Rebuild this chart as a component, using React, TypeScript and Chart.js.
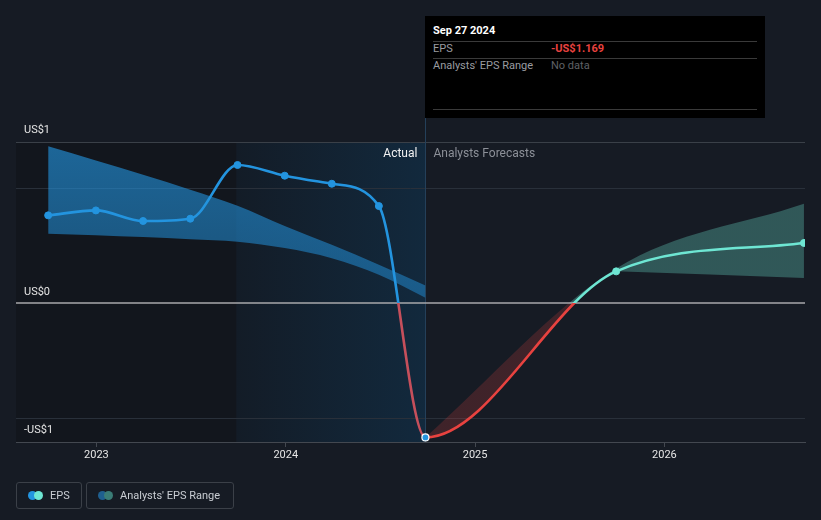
import React, { useEffect, useRef } from "react";
import { Chart, registerables } from "chart.js";

Chart.register(...registerables);

// ---------- data ----------
const actualDates = [
  "2022-09-30", "2022-12-31", "2023-04-01", "2023-07-01", "2023-09-30",
  "2023-12-30", "2024-03-30", "2024-06-29", "2024-09-27",
];
const actualEps = [0.762, 0.805, 0.713, 0.733, 1.2, 1.107, 1.037, 0.843, -1.169];

const forecastDates = ["2025-09-30", "2026-09-27"];
const forecastEps = [0.275, 0.522];

const pastRangeLow = [0.603, 0.59, 0.573, 0.555, 0.533, 0.478, 0.39, 0.246, 0.046];
const pastRangeHigh = [1.362, 1.24, 1.115, 0.985, 0.846, 0.67, 0.507, 0.333, 0.153];

const forecastRangeHighDates = ["2024-09-27", "2025-09-30", "2026-09-27"];
const forecastRangeHigh = [-1.169, 0.3, 0.863];
const forecastRangeLowDates = ["2025-09-30", "2026-09-27"];
const forecastRangeLow = [0.275, 0.217];

const xTickYears = [2023, 2024, 2025, 2026];
const xAxisStart = "2022-07-30";
const xAxisEnd = "2026-09-29";
const yAxisMin = -1.209;
const yAxisMax = 1.4;
const yGridValues = [1, -1];
const yLabelTexts = ["US$1", "US$0", "-US$1"];
const highlightStart = "2023-09-28";

// ---------- styles ----------
const BLUE = "#2394df";
const TEAL = "#6ee6d3";
const RED = "#e8423f";
const RED_MUTED = "#c64f5b";
const FONT = "Roboto, 'Noto Sans', sans-serif";

function toYear(iso: string): number {
  const d = new Date(iso + "T00:00:00Z");
  const y = d.getUTCFullYear();
  const s = Date.UTC(y, 0, 1);
  const e = Date.UTC(y + 1, 0, 1);
  return y + (d.getTime() - s) / (e - s);
}

function splitGradient(chart: any, above: string, below: string): any {
  const { ctx, chartArea, scales } = chart;
  if (!chartArea || !scales || !scales.y) return above;
  const y0 = scales.y.getPixelForValue(0);
  const f = Math.min(1, Math.max(0, (y0 - chartArea.top) / (chartArea.bottom - chartArea.top)));
  const g = ctx.createLinearGradient(0, chartArea.top, 0, chartArea.bottom);
  g.addColorStop(0, above);
  g.addColorStop(f, above);
  g.addColorStop(f, below);
  g.addColorStop(1, below);
  return g;
}

const decorPlugin = {
  id: "decor",
  beforeDraw(chart: any) {
    const { ctx, chartArea, scales, width, height } = chart;
    const x = scales.x;
    ctx.save();
    ctx.fillStyle = "#161b24";
    ctx.fillRect(0, 0, width, height);
    const xh = x.getPixelForValue(toYear(highlightStart));
    const xl = x.getPixelForValue(toYear(actualDates[actualDates.length - 1]));
    ctx.fillStyle = "#12161d";
    ctx.fillRect(chartArea.left, chartArea.top, xh - chartArea.left, chartArea.bottom - chartArea.top);
    const g = ctx.createLinearGradient(xh, 0, xl, 0);
    g.addColorStop(0, "#131c27");
    g.addColorStop(1, "#12293d");
    ctx.fillStyle = g;
    ctx.fillRect(xh, chartArea.top, xl - xh, chartArea.bottom - chartArea.top);
    ctx.restore();
  },
  beforeDatasetsDraw(chart: any) {
    const { ctx, chartArea, scales } = chart;
    const y = scales.y;
    ctx.save();
    ctx.lineWidth = 1;
    ctx.strokeStyle = "#3a4048";
    ctx.beginPath();
    ctx.moveTo(chartArea.left, Math.round(chartArea.top) + 0.5);
    ctx.lineTo(chartArea.right, Math.round(chartArea.top) + 0.5);
    ctx.stroke();
    ctx.strokeStyle = "#29303a";
    yGridValues.forEach((v) => {
      const py = Math.round(y.getPixelForValue(v)) + 0.5;
      ctx.beginPath();
      ctx.moveTo(chartArea.left, py);
      ctx.lineTo(chartArea.right, py);
      ctx.stroke();
    });
    const xl = Math.round(scales.x.getPixelForValue(toYear(actualDates[actualDates.length - 1]))) + 0.5;
    ctx.strokeStyle = "#24405a";
    ctx.beginPath();
    ctx.moveTo(xl, 117);
    ctx.lineTo(xl, chartArea.bottom);
    ctx.stroke();
    ctx.restore();
  },
  beforeDatasetDraw(chart: any, args: any) {
    if (args.index !== 0) return;
    const { ctx, chartArea, scales } = chart;
    const py = scales.y.getPixelForValue(0);
    ctx.save();
    ctx.strokeStyle = "#a9a9ab";
    ctx.lineWidth = 1.5;
    ctx.beginPath();
    ctx.moveTo(chartArea.left, py);
    ctx.lineTo(chartArea.right, py);
    ctx.stroke();
    ctx.restore();
  },
  afterDatasetsDraw(chart: any) {
    const { ctx, chartArea, scales } = chart;
    const y = scales.y;
    ctx.save();
    ctx.font = `11px ${FONT}`;
    ctx.fillStyle = "#e4e4e4";
    ctx.textBaseline = "middle";
    ctx.textAlign = "left";
    const labelY = [chartArea.top - 12, y.getPixelForValue(0) - 11, chartArea.bottom - 12];
    yLabelTexts.forEach((t, i) => ctx.fillText(t, 24, labelY[i]));
    const xl = scales.x.getPixelForValue(toYear(actualDates[actualDates.length - 1]));
    ctx.font = `12px ${FONT}`;
    ctx.textAlign = "right";
    ctx.fillStyle = "#f2f2f2";
    ctx.fillText("Actual", xl - 8, chartArea.top + 12);
    ctx.textAlign = "left";
    ctx.fillStyle = "#8c9098";
    ctx.fillText("Analysts Forecasts", xl + 8, chartArea.top + 12);
    ctx.restore();
  },
};

export default function App() {
  const canvasRef = useRef<HTMLCanvasElement | null>(null);

  useEffect(() => {
    const canvas = canvasRef.current;
    if (!canvas) return;
    const nA = actualDates.length;
    const epsDates = [...actualDates, ...forecastDates];
    const epsValues = [...actualEps, ...forecastEps];
    const epsData = epsDates.map((d, i) => ({ x: toYear(d), y: epsValues[i] }));

    const pointColors = epsDates.map((_, i) => (i < nA ? BLUE : TEAL));
    const pointBorders = epsDates.map((_, i) => (i === nA - 1 ? "#ffffff" : i < nA ? BLUE : TEAL));
    const pointBorderWidths = epsDates.map((_, i) => (i === nA - 1 ? 1.2 : 1));

    const chart = new Chart(canvas, {
      type: "line",
      data: {
        datasets: [
          {
            label: "EPS",
            data: epsData,
            cubicInterpolationMode: "monotone",
            borderWidth: 2.6,
            borderColor: BLUE,
            fill: false,
            segment: {
              borderColor: (ctx: any) => {
                const fc = ctx.p0DataIndex >= nA - 1;
                return splitGradient(ctx.chart, fc ? TEAL : BLUE, fc ? RED : RED_MUTED);
              },
            },
            pointRadius: 3.5,
            pointBackgroundColor: pointColors,
            pointBorderColor: pointBorders,
            pointBorderWidth: pointBorderWidths,
            order: 0,
          } as any,
          {
            label: "Past range low",
            data: actualDates.map((d, i) => ({ x: toYear(d), y: pastRangeLow[i] })),
            cubicInterpolationMode: "monotone",
            borderWidth: 0,
            pointRadius: 0,
            fill: false,
            order: 3,
          } as any,
          {
            label: "Past range high",
            data: actualDates.map((d, i) => ({ x: toYear(d), y: pastRangeHigh[i] })),
            cubicInterpolationMode: "monotone",
            borderWidth: 0,
            pointRadius: 0,
            fill: "-1",
            backgroundColor: (ctx: any) => {
              const c = ctx.chart;
              if (!c.chartArea) return "rgba(35,148,223,0.55)";
              const g = c.ctx.createLinearGradient(0, c.chartArea.top, 0, c.scales.y.getPixelForValue(0));
              g.addColorStop(0, "rgba(35,148,223,0.64)");
              g.addColorStop(1, "rgba(35,148,223,0.46)");
              return g;
            },
            order: 3,
          } as any,
          {
            label: "Forecast range high",
            data: forecastRangeHighDates.map((d, i) => ({ x: toYear(d), y: forecastRangeHigh[i] })),
            cubicInterpolationMode: "monotone",
            borderWidth: 0,
            pointRadius: 0,
            fill: { target: 0 },
            backgroundColor: (ctx: any) =>
              splitGradient(ctx.chart, "rgba(109,228,208,0.3)", "rgba(229,67,63,0.2)"),
            order: 2,
          } as any,
          {
            label: "Forecast range low",
            data: forecastRangeLowDates.map((d, i) => ({ x: toYear(d), y: forecastRangeLow[i] })),
            cubicInterpolationMode: "monotone",
            borderWidth: 0,
            pointRadius: 0,
            fill: { target: 0 },
            backgroundColor: (ctx: any) =>
              splitGradient(ctx.chart, "rgba(109,228,208,0.3)", "rgba(229,67,63,0.2)"),
            order: 2,
          } as any,
        ],
      },
      options: {
        animation: false,
        responsive: false,
        maintainAspectRatio: false,
        devicePixelRatio: 1,
        events: [],
        layout: { padding: { left: 16, right: 16, top: 142, bottom: 0 } },
        plugins: { legend: { display: false }, tooltip: { enabled: false } },
        scales: {
          x: {
            type: "linear",
            min: toYear(xAxisStart),
            max: toYear(xAxisEnd),
            afterBuildTicks: (axis: any) => {
              axis.ticks = xTickYears.map((v) => ({ value: v }));
            },
            afterFit: (axis: any) => {
              axis.height = 78;
            },
            ticks: {
              callback: (v: any) => String(v),
              color: "#e6e6e6",
              font: { family: FONT, size: 11 },
              padding: 2,
              maxRotation: 0,
              autoSkip: false,
            },
            grid: { drawOnChartArea: false, drawTicks: true, tickLength: 5, color: "#434850" },
            border: { display: true, color: "#434850", width: 1 },
          },
          y: {
            type: "linear",
            display: false,
            min: yAxisMin,
            max: yAxisMax,
          },
        },
      } as any,
      plugins: [decorPlugin],
    });
    return () => chart.destroy();
  }, []);

  const legendBox: React.CSSProperties = {
    position: "absolute",
    top: 482,
    height: 27,
    boxSizing: "border-box",
    border: "1px solid #3b4048",
    borderRadius: 3,
    display: "flex",
    alignItems: "center",
    fontFamily: FONT,
    fontSize: 11,
    color: "#c9cdd3",
  };
  const dot = (color: string, left: number): React.CSSProperties => ({
    position: "absolute",
    left,
    top: 8,
    width: 9,
    height: 9,
    borderRadius: "50%",
    background: color,
  });
  const sep: React.CSSProperties = {
    position: "absolute",
    left: 8,
    width: 324,
    height: 1,
    background: "#3a3a3a",
  };

  return (
    <div
      style={{
        position: "absolute",
        left: 0,
        top: 0,
        width: 821,
        height: 520,
        overflow: "hidden",
        background: "#161b24",
        fontFamily: FONT,
      }}
    >
      <canvas ref={canvasRef} width={821} height={520} style={{ display: "block" }} />

      <div
        style={{
          position: "absolute",
          left: 425,
          top: 16,
          width: 340,
          height: 102,
          background: "#000000",
          fontSize: 11,
        }}
      >
        <div style={{ position: "absolute", left: 8, top: 8, color: "#ffffff", fontWeight: 700, lineHeight: "14px" }}>
          Sep 27 2024
        </div>
        <div style={{ ...sep, top: 25 }} />
        <div style={{ position: "absolute", left: 8, top: 26, color: "#9a9ca0", lineHeight: "14px" }}>EPS</div>
        <div style={{ position: "absolute", left: 126, top: 26, color: RED, fontWeight: 700, lineHeight: "14px" }}>
          -US$1.169
        </div>
        <div style={{ ...sep, top: 42 }} />
        <div style={{ position: "absolute", left: 8, top: 43, color: "#9a9ca0", lineHeight: "14px" }}>
          Analysts' EPS Range
        </div>
        <div style={{ position: "absolute", left: 126, top: 43, color: "#5f6166", lineHeight: "14px" }}>No data</div>
        <div style={{ ...sep, top: 93 }} />
      </div>

      <div style={{ ...legendBox, left: 16, width: 66 }}>
        <div style={dot(BLUE, 11)} />
        <div style={dot(TEAL, 17)} />
        <span style={{ position: "absolute", left: 33, top: 6, lineHeight: "14px" }}>EPS</span>
      </div>
      <div style={{ ...legendBox, left: 86, width: 148 }}>
        <div style={dot("#1f5f8f", 11)} />
        <div style={dot("#3a7c76", 17)} />
        <span style={{ position: "absolute", left: 33, top: 6, lineHeight: "14px" }}>Analysts' EPS Range</span>
      </div>
    </div>
  );
}
